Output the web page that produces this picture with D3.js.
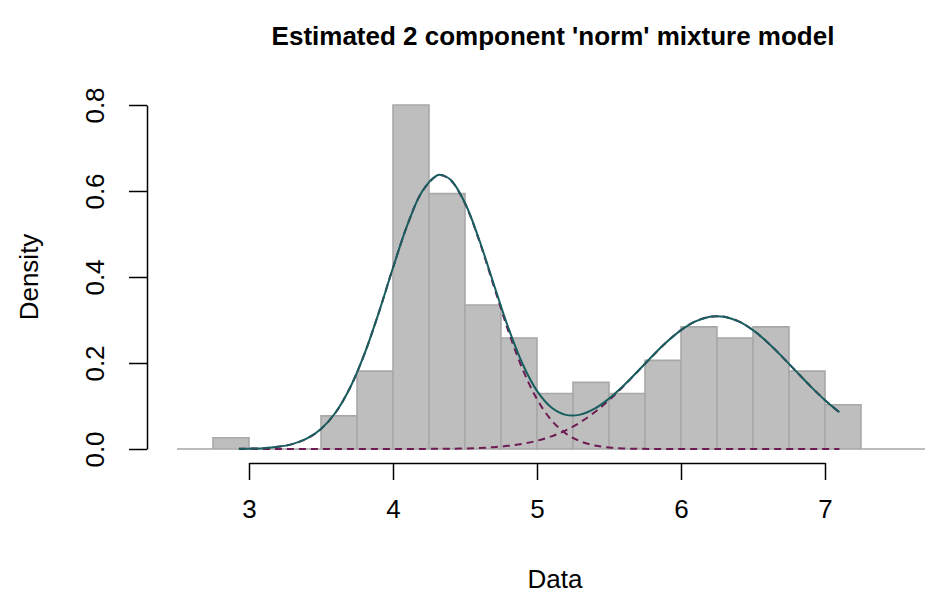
<!DOCTYPE html>
<html>
<head>
<meta charset="utf-8">
<script src="https://cdn.jsdelivr.net/npm/d3@7"></script>
<style>
	body { margin: 0; background: white; }
	svg { display: block; font-family: "Liberation Sans", Arial, sans-serif; }
</style>
</head>
<body>
<div id="chart"></div>
<script>

// histogram: bin left edges (width 0.25) and densities
var binStarts = [2.5, 2.75, 3.0, 3.25, 3.5, 3.75, 4.0, 4.25, 4.5, 4.75, 5.0, 5.25, 5.5, 5.75, 6.0, 6.25, 6.5, 6.75, 7.0, 7.25, 7.5];
var binDensity = [0, 0.026, 0, 0, 0.077, 0.181, 0.800, 0.594, 0.335, 0.258, 0.129, 0.155, 0.129, 0.206, 0.284, 0.258, 0.284, 0.181, 0.103, 0, 0];
var binWidth = 0.25;

// fitted curves
var curveX = [2.93, 3.0, 3.1, 3.2, 3.3, 3.4, 3.5, 3.6, 3.7, 3.8, 3.9, 4.0, 4.1, 4.2, 4.3, 4.33, 4.4, 4.5, 4.6, 4.7, 4.8, 4.9, 5.0, 5.1, 5.2, 5.3, 5.4, 5.5, 5.6, 5.7, 5.8, 5.9, 6.0, 6.1, 6.2, 6.25, 6.3, 6.4, 6.5, 6.6, 6.7, 6.8, 6.9, 7.0, 7.1];
var comp1 = [0.0004, 0.0008, 0.0020, 0.0050, 0.0114, 0.0239, 0.0466, 0.0843, 0.1413, 0.2194, 0.3158, 0.4214, 0.5211, 0.5974, 0.6348, 0.6370, 0.6253, 0.5708, 0.4830, 0.3789, 0.2754, 0.1856, 0.1159, 0.0671, 0.0360, 0.0179, 0.0083, 0.0035, 0.0014, 0.0005, 0.0002, 0.0001, 0, 0, 0, 0, 0, 0, 0, 0, 0, 0, 0, 0, 0];
var comp2 = [0, 0, 0, 0, 0, 0, 0, 0, 0, 0, 0, 0, 0.0001, 0.0002, 0.0004, 0.0005, 0.0007, 0.0013, 0.0024, 0.0043, 0.0073, 0.0121, 0.0192, 0.0294, 0.0434, 0.0620, 0.0854, 0.1136, 0.1457, 0.1804, 0.2155, 0.2485, 0.2765, 0.2969, 0.3076, 0.3090, 0.3076, 0.2969, 0.2765, 0.2485, 0.2155, 0.1804, 0.1457, 0.1136, 0.0854];
var total = [0.0004, 0.0008, 0.0020, 0.0050, 0.0114, 0.0239, 0.0466, 0.0843, 0.1413, 0.2194, 0.3158, 0.4214, 0.5212, 0.5976, 0.6352, 0.6375, 0.6260, 0.5721, 0.4854, 0.3832, 0.2827, 0.1977, 0.1351, 0.0965, 0.0794, 0.0799, 0.0937, 0.1171, 0.1471, 0.1809, 0.2157, 0.2486, 0.2765, 0.2969, 0.3076, 0.3090, 0.3076, 0.2969, 0.2765, 0.2485, 0.2155, 0.1804, 0.1457, 0.1136, 0.0854];

var xTicks = [3, 4, 5, 6, 7];
var yTicks = [0, 0.2, 0.4, 0.6, 0.8];

var title = "Estimated 2 component 'norm' mixture model";
var xLabel = 'Data';
var yLabel = 'Density';

var width = 925;
var height = 594;
var fontSize = 26;

var x = d3.scaleLinear().domain([3, 7]).range([249, 825]);
var y = d3.scaleLinear().domain([0, 0.8]).range([449, 105]);

var svg = d3.select('#chart').append('svg')
	.attr('width', width)
	.attr('height', height);

// histogram bars (empty bins give the grey baseline)
svg.append('g').selectAll('path').data(binStarts).enter().append('path')
	.attr('d', function(d, i) {
		var x0 = x(d), x1 = x(d + binWidth), y0 = y(0), y1 = y(binDensity[i]);
		return 'M' + x0 + ',' + y0 + 'V' + y1 + 'H' + x1 + 'V' + y0 + 'Z';
	})
	.attr('fill', '#bebebe')
	.attr('stroke', '#a8a8a8')
	.attr('stroke-width', 1.6)

var line = function(values) {
	return d3.line()
		.x(function(d, i) {return x(curveX[i])})
		.y(function(d) {return y(d)})
		.curve(d3.curveCatmullRom)(values);
}

// components, dashed
svg.selectAll('.comp').data([comp1, comp2]).enter().append('path')
	.attr('class', 'comp')
	.attr('d', line)
	.attr('fill', 'none')
	.attr('stroke', '#6d1b52')
	.attr('stroke-width', 2)
	.attr('stroke-dasharray', '7,5')

// mixture density
svg.append('path')
	.attr('d', line(total))
	.attr('fill', 'none')
	.attr('stroke', '#185e5f')
	.attr('stroke-width', 2)

// axes
var xAxis = svg.append('g')
	.attr('transform', 'translate(0,463)')
	.call(d3.axisBottom(x).tickValues(xTicks).tickSize(17).tickSizeOuter(0).tickPadding(20).tickFormat(d3.format('d')));

var yAxis = svg.append('g')
	.attr('transform', 'translate(147,0)')
	.call(d3.axisLeft(y).tickValues(yTicks).tickSize(18).tickSizeOuter(0).tickFormat(d3.format('.1f')));

[xAxis, yAxis].forEach(function(a) {
	a.attr('font-family', null).attr('font-size', null);
	a.selectAll('path, line').attr('stroke', '#000').attr('stroke-width', 1.5);
	a.selectAll('text').attr('font-size', fontSize).attr('fill', '#000');
});

yAxis.selectAll('text')
	.attr('x', 0)
	.attr('y', -43)
	.attr('dy', null)
	.attr('text-anchor', 'middle')
	.attr('transform', 'rotate(-90)')

// labels
svg.append('text')
	.attr('x', 553)
	.attr('y', 45)
	.attr('text-anchor', 'middle')
	.attr('font-size', fontSize)
	.attr('font-weight', 'bold')
	.text(title)

svg.append('text')
	.attr('x', 555)
	.attr('y', 588)
	.attr('text-anchor', 'middle')
	.attr('font-size', fontSize)
	.text(xLabel)

svg.append('text')
	.attr('transform', 'translate(38,277) rotate(-90)')
	.attr('text-anchor', 'middle')
	.attr('font-size', fontSize)
	.text(yLabel)

</script>
</body>
</html>
